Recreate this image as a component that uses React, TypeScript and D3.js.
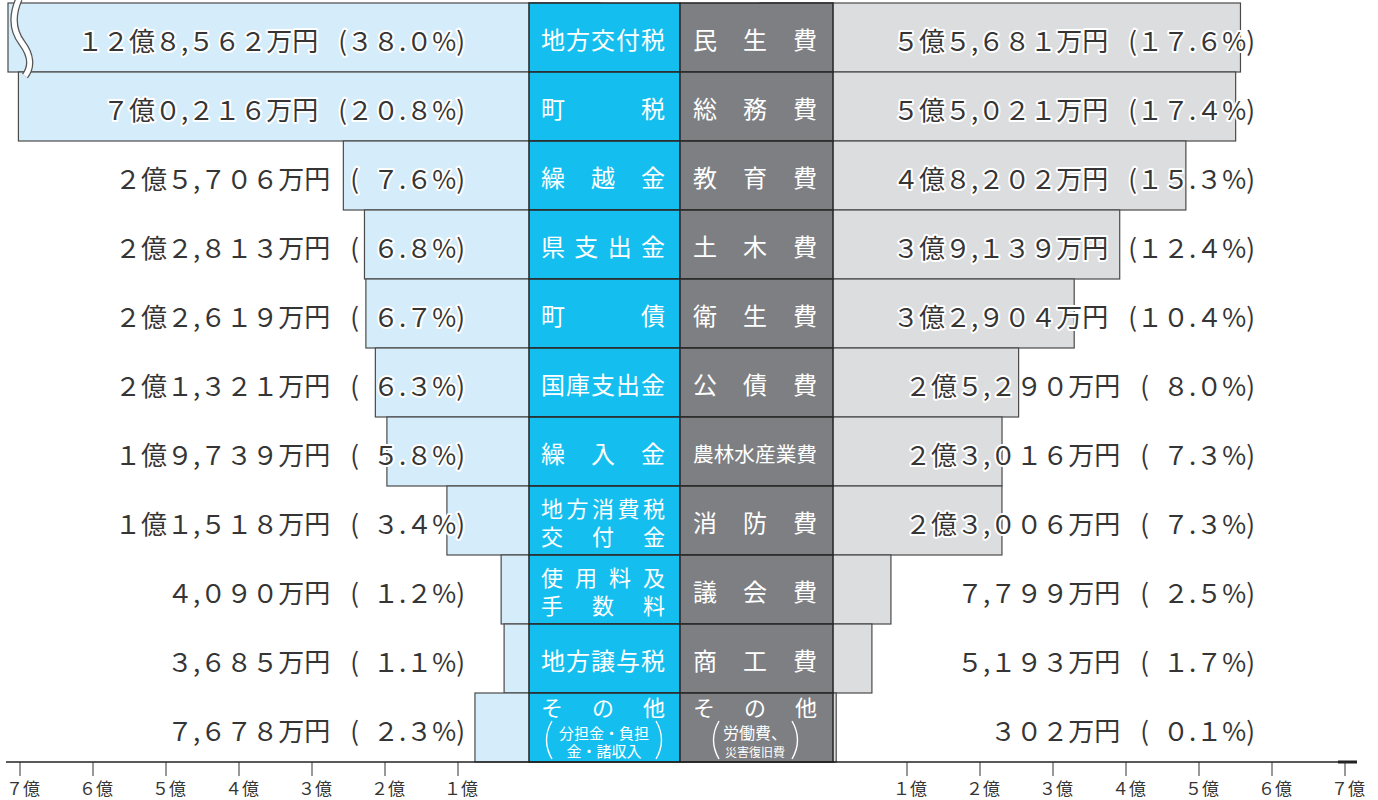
import React from "react";
import * as d3 from "d3";

// ---- data (values in 万円, shares in %) ----
const revenueLabels: string[][] = [
  ["地方交付税"], ["町税"], ["繰越金"], ["県支出金"], ["町債"], ["国庫支出金"],
  ["繰入金"], ["地方消費税", "交付金"], ["使用料及", "手数料"], ["地方譲与税"], ["その他"],
];
const revenueValues = [128562, 70216, 25706, 22813, 22619, 21321, 19739, 11518, 4090, 3685, 7678];
const revenueShares = [38.0, 20.8, 7.6, 6.8, 6.7, 6.3, 5.8, 3.4, 1.2, 1.1, 2.3];
const revenueOtherNote = ["分担金・負担", "金・諸収入"];

const expenseLabels: string[][] = [
  ["民生費"], ["総務費"], ["教育費"], ["土木費"], ["衛生費"], ["公債費"],
  ["農林水産業費"], ["消防費"], ["議会費"], ["商工費"], ["その他"],
];
const expenseValues = [55681, 55021, 48202, 39139, 32904, 25290, 23016, 23006, 7799, 5193, 302];
const expenseShares = [17.6, 17.4, 15.3, 12.4, 10.4, 8.0, 7.3, 7.3, 2.5, 1.7, 0.1];
const expenseOtherNote = ["労働費、", "災害復旧費"];

const axisTicks = [1, 2, 3, 4, 5, 6, 7]; // 億

// ---- styling ----
const FONT = "'Noto Sans CJK JP', 'Noto Sans', sans-serif";
const BLUE = "#14bff0";
const GRAY = "#7e7f83";
const LBLUE = "#d5edfa";
const LGRAY = "#dcdddf";
const BORDER = "#2b2b2b";
const TEXT = "#353535";

const fw = (s: string) => s.replace(/[0-9]/g, (d) => String.fromCharCode(d.charCodeAt(0) + 0xfee0));

function fmtAmount(v: number): string {
  const oku = Math.floor(v / 10000);
  const man = v % 10000;
  if (oku > 0) {
    const m = String(man).padStart(4, "0");
    return fw(String(oku)) + "億" + fw(m[0]) + "," + fw(m.slice(1)) + "万円";
  }
  const s = d3.format(",")(man);
  return fw(s) + "万円";
}
function shareParts(p: number): { single: boolean; text: string } {
  const [i, d] = p.toFixed(1).split(".");
  return { single: i.length < 2, text: fw(i) + "." + fw(d) + "%)" };
}

function Justified({ text, left, right, y, size, fill }: { text: string; left: number; right: number; y: number; size?: number; fill: string }) {
  const chars = Array.from(text);
  const W = right - left;
  const fs = size ?? Math.min(24, W / chars.length);
  const n = chars.length;
  return (
    <g>
      {chars.map((c, i) => {
        const x = n === 1 ? (left + right) / 2 : left + fs / 2 + (i * (W - fs)) / (n - 1);
        return (
          <text key={i} x={x} y={y} fontSize={fs} fill={fill} textAnchor="middle" dominantBaseline="central" fontFamily={FONT}>
            {c}
          </text>
        );
      })}
    </g>
  );
}

function ValueLabel({ x, y, value, share }: { x: number; y: number; value: number; share: number }) {
  const sp = shareParts(share);
  return (
    <text x={x} y={y} fontSize={26} fill={TEXT} textAnchor="end" dominantBaseline="central" fontFamily={FONT}
      stroke="#fff" strokeWidth={4} paintOrder="stroke" strokeLinejoin="round">
      <tspan>{fmtAmount(value)}</tspan>
      <tspan dx={20}>(</tspan>
      <tspan dx={sp.single ? 14 : 0}>{sp.text}</tspan>
    </text>
  );
}

export default function App() {
  const width = 1378;
  const height = 800;
  const rows = d3.range(revenueValues.length);
  const y = d3.scaleBand<number>().domain(rows).range([3, 762]).padding(0);
  const bh = y.bandwidth();
  const xL = d3.scaleLinear().domain([0, 7]).range([531, 20]);
  const xR = d3.scaleLinear().domain([0, 7]).range([834, 1345]);
  const blueL = 529, blueR = 680, grayR = 833;
  const leftClip = 8;

  const firstTop = y(0)!;
  const brk = `M19,${firstTop - 4} C11,${firstTop + 14} 13,${firstTop + 28} 22,${firstTop + 40} C31,${firstTop + 52} 32,${firstTop + 64} 25,${firstTop + bh + 4}`;

  return (
    <div style={{ position: "absolute", left: 0, top: 0 }}>
      <svg width={width} height={height} style={{ display: "block", background: "#fff" }}>
        {/* left bars */}
        {revenueValues.map((v, i) => {
          const x = Math.max(xL(v / 10000), leftClip);
          return <rect key={"lb" + i} x={x} y={y(i)} width={600 - x} height={bh} fill={LBLUE} stroke="#4a4a4a" strokeWidth={1.2} />;
        })}
        {/* right bars */}
        {expenseValues.map((v, i) => {
          const x2 = xR(v / 10000);
          return <rect key={"rb" + i} x={760} y={y(i)} width={x2 - 760} height={bh} fill={LGRAY} stroke="#4a4a4a" strokeWidth={1.2} />;
        })}
        {/* break mark on the truncated first bar */}
        <path d={brk} fill="none" stroke="#555" strokeWidth={7.5} />
        <path d={brk} fill="none" stroke="#fff" strokeWidth={5} />

        {/* center columns */}
        {rows.map((i) => (
          <g key={"col" + i}>
            <rect x={blueL} y={y(i)} width={blueR - blueL} height={bh} fill={BLUE} stroke={BORDER} strokeWidth={1.6} />
            <rect x={blueR} y={y(i)} width={grayR - blueR} height={bh} fill={GRAY} stroke={BORDER} strokeWidth={1.6} />
          </g>
        ))}

        {/* column labels */}
        {revenueLabels.map((lines, i) => {
          const cy = y(i)! + bh / 2;
          if (i === revenueLabels.length - 1) {
            const t = y(i)!;
            return (
              <g key={"rl" + i}>
                <Justified text={lines[0]} left={541} right={665} y={t + 13} size={22} fill="#fff" />
                <text x={604} y={t + 39} fontSize={15} fill="#fff" textAnchor="middle" dominantBaseline="central" fontFamily={FONT}>{revenueOtherNote[0]}</text>
                <text x={604} y={t + 57} fontSize={15} fill="#fff" textAnchor="middle" dominantBaseline="central" fontFamily={FONT}>{revenueOtherNote[1]}</text>
                <path d={`M552,${t + 28} Q541,${t + 47} 552,${t + 66}`} fill="none" stroke="#fff" strokeWidth={1.4} />
                <path d={`M656,${t + 28} Q667,${t + 47} 656,${t + 66}`} fill="none" stroke="#fff" strokeWidth={1.4} />
              </g>
            );
          }
          if (lines.length === 2) {
            return (
              <g key={"rl" + i}>
                <Justified text={lines[0]} left={541} right={665} y={cy - 14} size={22} fill="#fff" />
                <Justified text={lines[1]} left={541} right={665} y={cy + 14} size={22} fill="#fff" />
              </g>
            );
          }
          return <Justified key={"rl" + i} text={lines[0]} left={541} right={665} y={cy + 1} fill="#fff" />;
        })}
        {expenseLabels.map((lines, i) => {
          const cy = y(i)! + bh / 2;
          if (i === expenseLabels.length - 1) {
            const t = y(i)!;
            return (
              <g key={"el" + i}>
                <Justified text={lines[0]} left={693} right={817} y={t + 13} size={22} fill="#fff" />
                <text x={755} y={t + 39} fontSize={16} fill="#fff" textAnchor="middle" dominantBaseline="central" fontFamily={FONT}>{expenseOtherNote[0]}</text>
                <text x={755} y={t + 58} fontSize={12} fill="#fff" textAnchor="middle" dominantBaseline="central" fontFamily={FONT}>{expenseOtherNote[1]}</text>
                <path d={`M719,${t + 28} Q708,${t + 47} 719,${t + 66}`} fill="none" stroke="#fff" strokeWidth={1.4} />
                <path d={`M792,${t + 28} Q803,${t + 47} 792,${t + 66}`} fill="none" stroke="#fff" strokeWidth={1.4} />
              </g>
            );
          }
          return <Justified key={"el" + i} text={lines[0]} left={693} right={817} y={cy + 1} fill="#fff" />;
        })}

        {/* value labels */}
        {revenueValues.map((v, i) => (
          <ValueLabel key={"lv" + i} x={465} y={y(i)! + bh / 2 + 1} value={v} share={revenueShares[i]} />
        ))}
        {expenseValues.map((v, i) => (
          <ValueLabel key={"rv" + i} x={1255} y={y(i)! + bh / 2 + 1} value={v} share={expenseShares[i]} />
        ))}

        {/* axis */}
        <line x1={6} x2={1357} y1={762} y2={762} stroke="#222" strokeWidth={1.5} />
        <line x1={1338} x2={1357} y1={762} y2={762} stroke="#222" strokeWidth={3} />
        {axisTicks.map((t) => (
          <g key={"lt" + t}>
            <line x1={xL(t)} x2={xL(t)} y1={762} y2={776} stroke="#333" strokeWidth={1} />
            <text x={xL(t) + 3} y={787} fontSize={17} fill={TEXT} textAnchor="middle" dominantBaseline="central" fontFamily={FONT}>{fw(String(t)) + "億"}</text>
          </g>
        ))}
        {axisTicks.map((t) => (
          <g key={"rt" + t}>
            <line x1={xR(t)} x2={xR(t)} y1={762} y2={776} stroke="#333" strokeWidth={1} />
            <text x={xR(t) + 3} y={787} fontSize={17} fill={TEXT} textAnchor="middle" dominantBaseline="central" fontFamily={FONT}>{fw(String(t)) + "億"}</text>
          </g>
        ))}
      </svg>
    </div>
  );
}
